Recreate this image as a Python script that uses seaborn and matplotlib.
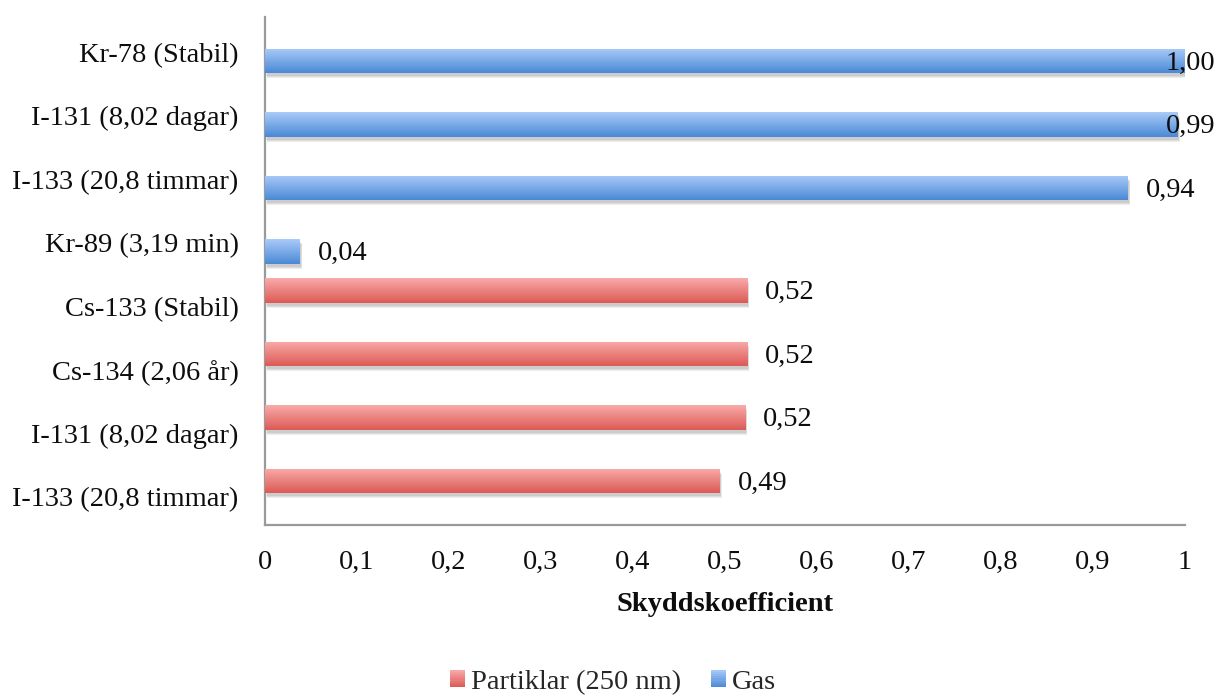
import numpy as np
import pandas as pd
import matplotlib
matplotlib.use("Agg")
import matplotlib.pyplot as plt
import matplotlib.patheffects as pe
import matplotlib.transforms as mtransforms
from matplotlib.patches import Rectangle
from matplotlib.legend_handler import HandlerBase
import seaborn as sns

# --- data -----------------------------------------------------------------
series_names = ["Partiklar (250 nm)", "Gas"]

gas_nuclides = ["Kr-78 (Stabil)", "I-131 (8,02 dagar)",
                "I-133 (20,8 timmar)", "Kr-89 (3,19 min)"]
gas_values = [1.000, 0.992, 0.938, 0.038]

particle_nuclides = ["Cs-133 (Stabil)", "Cs-134 (2,06 år)",
                     "I-131 (8,02 dagar)", "I-133 (20,8 timmar)"]
particle_values = [0.524, 0.524, 0.522, 0.494]

x_ticks = [0, 0.1, 0.2, 0.3, 0.4, 0.5, 0.6, 0.7, 0.8, 0.9, 1.0]
x_label = "Skyddskoefficient"

# gradient colours (top, bottom) per series
gradients = {
    "Partiklar (250 nm)": ("#f9abaa", "#dc5a55"),
    "Gas": ("#a9cbf8", "#4b89d6"),
}
mid_colors = {k: matplotlib.colors.to_hex(
    (np.array(matplotlib.colors.to_rgb(a)) + np.array(matplotlib.colors.to_rgb(b))) / 2)
    for k, (a, b) in gradients.items()}

# --- long-form table ------------------------------------------------------
rows = []
for name, val in zip(gas_nuclides, gas_values):
    rows.append({"key": "Gas|" + name, "label": name, "series": "Gas", "value": val})
for name, val in zip(particle_nuclides, particle_values):
    rows.append({"key": "Part|" + name, "label": name,
                 "series": "Partiklar (250 nm)", "value": val})
df = pd.DataFrame(rows)
order = list(df["key"])

# --- figure ---------------------------------------------------------------
sns.set_theme(style="white")
plt.rcParams["font.family"] = ["Liberation Serif", "DejaVu Serif"]
FS = 20.5
TEXT = "#0d0d0d"

fig = plt.figure(figsize=(12.19, 6.95), dpi=100)
ax = fig.add_axes([265 / 1219, 1 - 525 / 695, 920 / 1219, 508 / 695])

sns.barplot(data=df, y="key", x="value", hue="series", order=order,
            hue_order=series_names, palette=mid_colors, saturation=1,
            width=0.77, dodge=True, orient="h", legend=False, ax=ax,
            errorbar=None)

ax.set_xlim(0, 1)
ylim = ax.get_ylim()

# soft drop shadow under each bar, gradient fill on top
shadow = [pe.SimplePatchShadow(offset=(o * 0.5, -o - 0.5), shadow_rgbFace="#000000",
                               alpha=0.07)
          for o in (3.2, 2.4, 1.6)] + [pe.Normal()]
for container, sname in zip(ax.containers, series_names):
    top, bot = (np.array(matplotlib.colors.to_rgb(c)) for c in gradients[sname])
    grad = np.linspace(0, 1, 64)[:, None, None]
    img = top[None, None, :] * (1 - grad) + bot[None, None, :] * grad
    for bar in container:
        w = bar.get_width()
        if not np.isfinite(w) or w <= 0:
            continue
        bar.set_edgecolor("none")
        bar.set_path_effects(shadow)
        y0, h = bar.get_y(), bar.get_height()
        im = ax.imshow(img, extent=(0, w, y0 + h, y0), origin="upper",
                       aspect="auto", interpolation="bilinear", zorder=3)
        im.set_clip_path(bar)
ax.set_xlim(0, 1)
ax.set_ylim(ylim)

# value labels
value_texts = []
for container in ax.containers:
    for bar in container:
        w = bar.get_width()
        if not np.isfinite(w) or w <= 0:
            continue
        t = ax.annotate(f"{w:.2f}".replace(".", ","),
                        xy=(w, bar.get_y() + bar.get_height() / 2),
                        xytext=(13, -1.5), textcoords="offset points",
                        ha="left", va="center", fontsize=FS, color=TEXT,
                        annotation_clip=False, zorder=5)
        value_texts.append(t)

# axes styling
ax.set_yticks(range(len(order)))
ax.set_yticklabels(df["label"], fontsize=FS, color=TEXT)
ax.set_xticks(x_ticks)
ax.set_xticklabels([("%g" % v).replace(".", ",") for v in x_ticks],
                   fontsize=FS, color=TEXT)
ax.tick_params(axis="both", length=0)
ax.tick_params(axis="x", pad=18)
ax.tick_params(axis="y", pad=19)
label_shift = mtransforms.ScaledTranslation(0, -2.5 / 72, fig.dpi_scale_trans)
for lbl in ax.get_yticklabels():
    lbl.set_transform(lbl.get_transform() + label_shift)
ax.set_ylabel("")
ax.set_xlabel(x_label, fontsize=FS, fontweight="bold", color=TEXT, labelpad=12)
for side in ("top", "right"):
    ax.spines[side].set_visible(False)
for side in ("left", "bottom"):
    ax.spines[side].set_color("#9a9a9a")
    ax.spines[side].set_linewidth(1.6)
ax.grid(False)


# legend with gradient squares
class GradientHandler(HandlerBase):
    def __init__(self, colors):
        super().__init__()
        self.colors = colors

    def create_artists(self, legend, orig_handle, xdescent, ydescent,
                       width, height, fontsize, trans):
        top, bot = (np.array(matplotlib.colors.to_rgb(c)) for c in self.colors)
        n = 8
        arts = []
        for i in range(n):
            f = (i + 0.5) / n
            c = top * (1 - f) + bot * f
            arts.append(Rectangle((-xdescent, -ydescent + height * (1 - (i + 1) / n)),
                                  width, height / n + 0.3, facecolor=c,
                                  edgecolor="none", transform=trans))
        return arts


handles = [Rectangle((0, 0), 1, 1) for _ in series_names]
handler_map = {h: GradientHandler(gradients[s]) for h, s in zip(handles, series_names)}
fig.legend(handles, series_names, handler_map=handler_map, loc="center",
           bbox_to_anchor=(0.503, 0.018), ncol=2, frameon=False, fontsize=FS,
           handlelength=0.52, handleheight=0.52, handletextpad=0.22,
           columnspacing=1.05, borderaxespad=0)

# keep value labels inside the figure's right edge
fig.canvas.draw()
renderer = fig.canvas.get_renderer()
right_limit = fig.bbox.width - 4
for t in value_texts:
    bb = t.get_window_extent(renderer)
    if bb.x1 > right_limit:
        dx_pt = (bb.x1 - right_limit) * 72 / fig.dpi
        ox, oy = t.xyann
        t.xyann = (ox - dx_pt, oy)

fig.savefig("out.png", dpi=100)
